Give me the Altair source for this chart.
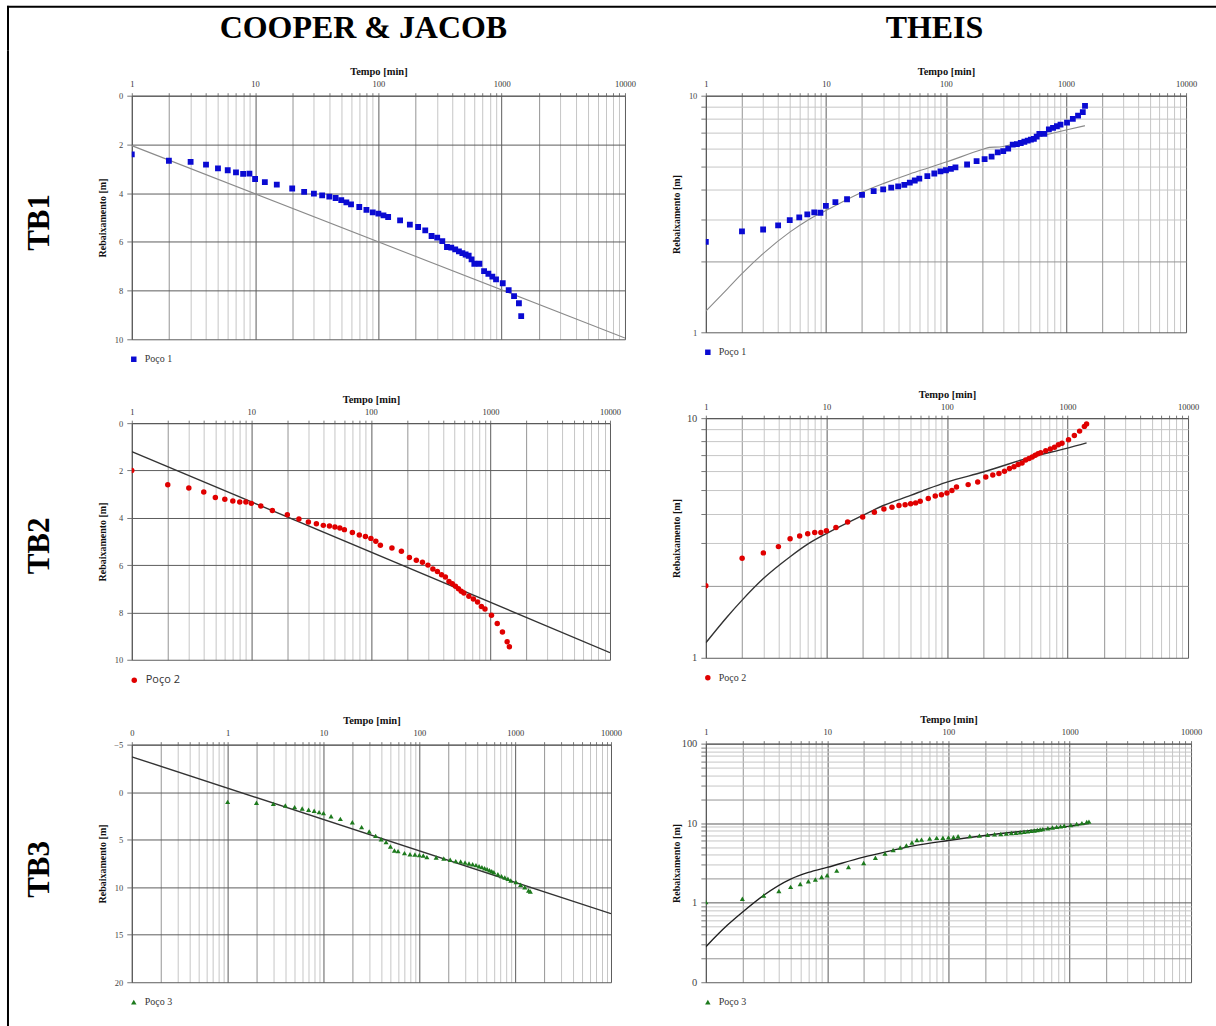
import altair as alt
import pandas as pd

# ---------------------------------------------------------------------------
# Pumping-test data: elapsed time (min) and drawdown (m) for the three wells
# ---------------------------------------------------------------------------
tempo = [1, 2, 3, 4, 5, 6, 7, 8, 9, 10,
         12, 15, 20, 25, 30, 35, 40, 45, 50, 55, 60,
         70, 80, 90, 100, 110, 120,
         150, 180, 210, 240, 270, 300, 330, 360, 390, 420, 450, 480, 510, 540, 570, 600,
         660, 720, 780, 840, 900,
         1020, 1140, 1260, 1380, 1440]

rebaix_poco1 = [2.41, 2.67, 2.72, 2.83, 2.98, 3.06, 3.15, 3.21, 3.20, 3.42,
                3.55, 3.65, 3.81, 3.95, 4.02, 4.09, 4.14, 4.20, 4.29, 4.38, 4.46,
                4.57, 4.69, 4.79, 4.84, 4.91, 4.98,
                5.12, 5.29, 5.39, 5.53, 5.76, 5.83, 5.97, 6.21, 6.24, 6.31, 6.39, 6.46, 6.52, 6.57, 6.72, 6.90,
                6.90, 7.20, 7.31, 7.43, 7.54,
                7.70, 7.98, 8.23, 8.52, 9.05]

rebaix_poco2 = [2.00, 2.60, 2.74, 2.91, 3.14, 3.22, 3.29, 3.33, 3.33, 3.39,
                3.50, 3.69, 3.87, 4.05, 4.18, 4.25, 4.32, 4.35, 4.39, 4.43, 4.50,
                4.62, 4.73, 4.79, 4.87, 4.99, 5.16,
                5.28, 5.41, 5.68, 5.79, 5.88, 6.00, 6.16, 6.27, 6.41, 6.50, 6.69, 6.79, 6.89, 7.00, 7.10, 7.18,
                7.32, 7.43, 7.56, 7.75, 7.85,
                8.12, 8.47, 8.83, 9.24, 9.45]

rebaix_poco3 = [1.02, 1.12, 1.23, 1.40, 1.58, 1.72, 1.86, 1.96, 2.10, 2.21,
                2.53, 2.81, 3.16, 3.68, 4.14, 4.60, 4.95, 5.26, 5.72, 6.14, 6.21,
                6.42, 6.53, 6.56, 6.63, 6.67, 6.84,
                6.88, 6.98, 7.12, 7.26, 7.30, 7.40, 7.51, 7.58, 7.68, 7.79, 7.89, 8.00, 8.10, 8.21, 8.32, 8.42,
                8.63, 8.84, 8.98, 9.12, 9.30,
                9.47, 9.75, 10.00, 10.35, 10.46]

# Cooper & Jacob straight-line fits (end points of each line)
cj_t1, cj_s1 = [1, 10000], [2.05, 9.95]
cj_t2, cj_s2 = [1, 10000], [1.20, 9.70]
cj_t3, cj_s3 = [0.1, 10000], [-3.72, 12.78]

# Theis type curves fitted to each well
theis_t1 = [1, 1.5, 2, 3, 5, 7, 10, 20, 30, 50, 70, 100, 200, 230, 280, 500, 700, 1000, 1440]
theis_s1 = [1.23, 1.52, 1.77, 2.15, 2.65, 2.97, 3.27, 3.91, 4.25, 4.67, 4.94, 5.24, 5.92, 6.05, 6.07, 6.56, 6.85, 7.16, 7.47]
theis_t2 = [1, 1.5, 2, 3, 5, 7, 10, 20, 30, 50, 70, 100, 200, 500, 1000, 1440]
theis_s2 = [1.155, 1.48, 1.74, 2.14, 2.64, 2.98, 3.30, 3.93, 4.33, 4.76, 5.08, 5.41, 5.96, 6.88, 7.50, 7.89]
theis_t3 = [1, 1.5, 2, 3, 5, 7, 10, 20, 30, 50, 100, 200, 500, 1000, 1440]
theis_s3 = [0.28, 0.52, 0.76, 1.24, 1.98, 2.40, 2.78, 3.74, 4.33, 5.14, 6.06, 7.00, 8.17, 9.17, 10.00]

SERIF = "Liberation Serif"
SANS = "Open Sans"

DEC = "abs(log(datum.value) / LN10 - round(log(datum.value) / LN10)) < 0.000001"
TWO = "abs(datum.value / pow(10, floor(log(datum.value) / LN10 + 0.000001)) - 2) < 0.000001"
LOG_GRID = {"condition": [{"test": DEC, "value": "#5c5c5c"},
                          {"test": TWO, "value": "#959595"}],
            "value": "#c6c6c6"}
DEC_LABEL = "(" + DEC + ") ? format(datum.value, 'd') : ''"


def log_values(lo, hi):
    vals = []
    for k in range(lo, hi):
        for m in range(1, 10):
            vals.append(m / 10 ** (-k) if k < 0 else m * 10 ** k)
    vals.append(10 ** hi if hi >= 0 else 1 / 10 ** (-hi))
    return vals


def x_axis(x_vals):
    return alt.Axis(orient="top", values=x_vals, labelExpr=DEC_LABEL,
                    title="Tempo [min]", titleFont=SERIF, titleFontSize=10.5,
                    titleFontWeight="bold", titleColor="#111", titlePadding=3,
                    labelFont=SERIF, labelFontSize=8.5, labelColor="#333",
                    labelPadding=4, labelFlush=False, labelOverlap=False,
                    tickSize=3, tickColor="#777", domainColor="#555",
                    gridColor=LOG_GRID, minExtent=16, maxExtent=16)


def panel(serie, values, color, mark, line_t, line_s, line_color, line_width,
          x_dom, x_vals, y_dom, y_vals, y_log, reverse, w, h,
          legend_font=SERIF, legend_size=10, y_label_size=8.5, y_title_pad=4,
          legend_symbol="square"):
    pts = pd.DataFrame({"t": tempo, "s": values, "serie": [serie] * len(tempo)})
    fit = pd.DataFrame({"t": line_t, "s": line_s})

    x_enc = alt.X("t:Q", scale=alt.Scale(type="log", domain=x_dom, nice=False),
                  axis=x_axis(x_vals))

    if y_log:
        ya = alt.Axis(values=y_vals, labelExpr=DEC_LABEL, gridColor=LOG_GRID)
        y_scale = alt.Scale(type="log", domain=y_dom, nice=False)
    else:
        ya = alt.Axis(values=y_vals, gridColor="#5c5c5c")
        y_scale = alt.Scale(domain=y_dom, reverse=reverse, zero=False, nice=False)
    ya.title = "Rebaixamento [m]"
    ya.titleFont = SERIF
    ya.titleFontSize = 10
    ya.titleFontWeight = "bold"
    ya.titleColor = "#111"
    ya.titlePadding = y_title_pad
    ya.labelFont = SERIF
    ya.labelFontSize = y_label_size
    ya.labelColor = "#444"
    ya.labelPadding = 4
    ya.labelOverlap = False
    ya.labelFlush = False
    ya.tickSize = 5
    ya.tickColor = "#777"
    ya.domainColor = "#555"
    ya.minExtent = 20
    ya.maxExtent = 20
    y_enc = alt.Y("s:Q", scale=y_scale, axis=ya)

    line = alt.Chart(fit).mark_line(color=line_color, strokeWidth=line_width,
                                    clip=True, interpolate="monotone").encode(x=x_enc, y=y_enc)

    color_enc = alt.Color("serie:N",
                          scale=alt.Scale(domain=[serie], range=[color]),
                          legend=alt.Legend(title=None, orient="none", legendX=-3,
                                            legendY=h + 15, symbolType=legend_symbol,
                                            symbolSize=30, symbolStrokeWidth=0,
                                            labelFont=legend_font, labelFontSize=legend_size,
                                            labelColor="#333", labelOffset=6, padding=0))
    if mark == "square":
        pm = alt.Chart(pts).mark_square(size=34, opacity=1, clip=True)
    elif mark == "circle":
        pm = alt.Chart(pts).mark_circle(size=30, opacity=1, clip=True)
    else:
        pm = alt.Chart(pts).mark_point(shape="triangle-up", filled=True, size=26,
                                       opacity=1, clip=True)
    points = pm.encode(x=x_enc, y=y_enc, color=color_enc)

    return alt.layer(line, points).properties(width=w, height=h)


X1 = log_values(0, 4)
X01 = log_values(-1, 4)

p1 = panel("Poço 1", rebaix_poco1, "#0a0ad2", "square", cj_t1, cj_s1, "#8a8a8a", 1.1,
           [1, 10000], X1, [0, 10], [0, 2, 4, 6, 8, 10], False, True, 494, 244)
p3 = panel("Poço 2", rebaix_poco2, "#e00000", "circle", cj_t2, cj_s2, "#333333", 1.4,
           [1, 10000], X1, [0, 10], [0, 2, 4, 6, 8, 10], False, True, 479, 237,
           legend_font=SANS, legend_size=11, legend_symbol="circle")
p5 = panel("Poço 3", rebaix_poco3, "#1d7a1d", "triangle", cj_t3, cj_s3, "#333333", 1.4,
           [0.1, 10000], X01, [-5, 20], [-5, 0, 5, 10, 15, 20], False, True, 480, 238,
           legend_symbol="triangle-up")

p2 = panel("Poço 1", rebaix_poco1, "#0a0ad2", "square", theis_t1, theis_s1, "#8a8a8a", 1.1,
           [1, 10000], X1, [1, 10], log_values(0, 1), True, False, 481, 237)
p4 = panel("Poço 2", rebaix_poco2, "#e00000", "circle", theis_t2, theis_s2, "#333333", 1.4,
           [1, 10000], X1, [1, 10], log_values(0, 1), True, False, 483, 240,
           y_label_size=10.5, legend_symbol="circle")
p6 = panel("Poço 3", rebaix_poco3, "#1d7a1d", "triangle", theis_t3, theis_s3, "#222222", 1.4,
           [1, 10000], X1, [0.1, 100], log_values(-1, 2), True, False, 486, 239,
           y_label_size=10.5, legend_symbol="triangle-up")

col_cj = alt.vconcat(p1, p3, p5, spacing=30).resolve_scale(
    x="independent", y="independent", color="independent")
col_theis = alt.vconcat(p2, p4, p6, spacing=32).resolve_scale(
    x="independent", y="independent", color="independent")

one = pd.DataFrame({"k": [0]})
base = alt.Chart(one)


def border(x, x2, y, y2):
    # solid black bar used for the table frame
    return base.mark_rect(color="black").encode(
        x=alt.value(x), x2=alt.value(x2), y=alt.value(y), y2=alt.value(y2))


def row_label(text, y):
    return base.mark_text(font=SERIF, fontSize=31, fontWeight="bold", angle=270,
                          align="center", baseline="middle", color="black").encode(
        x=alt.value(32), y=alt.value(y), text=alt.value(text))


# Left strip: table border and row labels
strip = alt.layer(
    border(-1, 1, -45, 940),
    row_label("TB1", 127),
    row_label("TB2", 451),
    row_label("TB3", 775),
).properties(width=54, height=900)

# Header: top border and column headings
header = alt.layer(
    border(-1, 1210, -1, 1),
    border(-1, 1, -1, 44),
    base.mark_text(font=SERIF, fontSize=32, fontWeight="bold", align="center",
                   baseline="middle", color="black").encode(
        x=alt.value(356), y=alt.value(21), text=alt.value("COOPER & JACOB")),
    base.mark_text(font=SERIF, fontSize=32, fontWeight="bold", align="center",
                   baseline="middle", color="black").encode(
        x=alt.value(928), y=alt.value(21), text=alt.value("THEIS")),
).properties(width=1208, height=44)

body = alt.hconcat(strip, col_cj, col_theis, spacing=36).resolve_scale(
    x="independent", y="independent", color="independent")

chart = alt.vconcat(header, body, spacing=0).properties(
    padding={"left": 7, "top": 5, "right": 0, "bottom": 0},
    background="white",
).configure_view(strokeWidth=0)

chart.save("out.html", embed_options={"renderer": "svg", "actions": False})
